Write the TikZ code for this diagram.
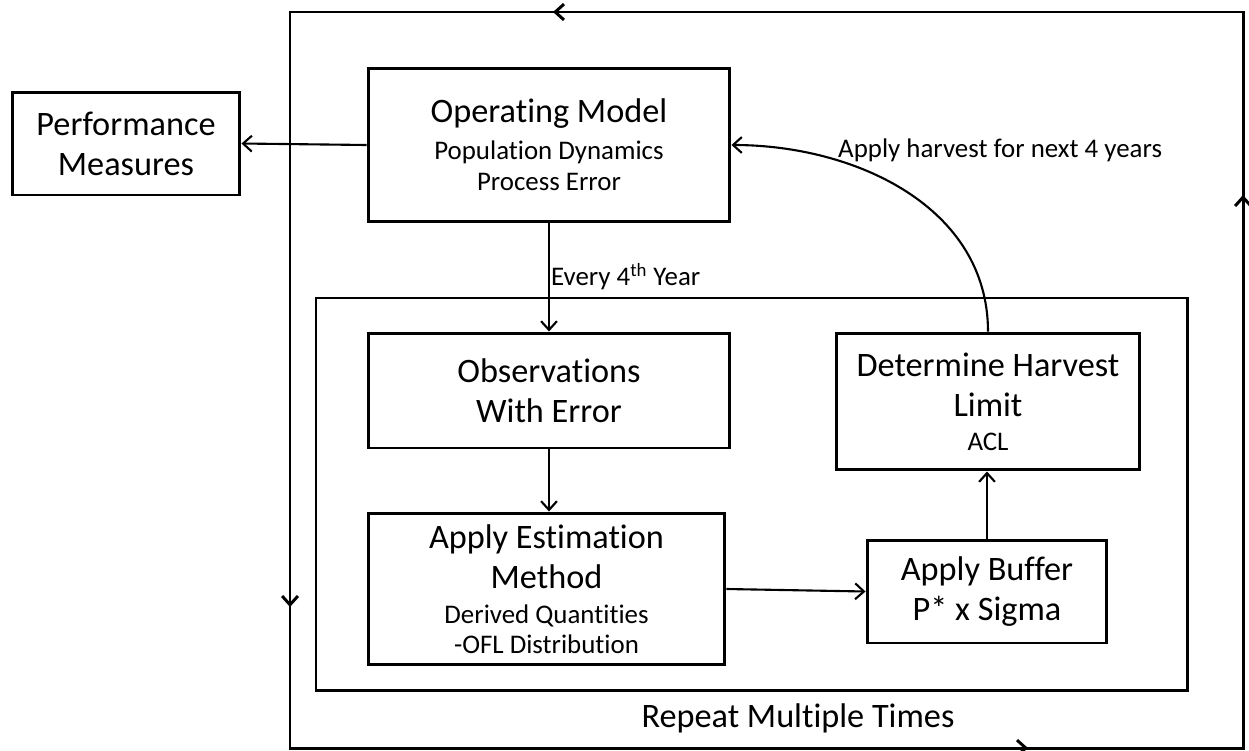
\documentclass[tikz,border=0pt]{standalone}
\usepackage{fontspec}
\setmainfont{Carlito}[RawFeature={-liga;-clig}]
\usepackage{tikz}
\usetikzlibrary{arrows.meta,positioning}
\newcommand\bigtxt{\fontsize{19.5}{22.8}\selectfont}
\newcommand\smalltxt{\fontsize{15.3}{17.6}\selectfont}
\tikzset{
  box/.style={draw,line width=1.7pt,align=center,inner sep=0pt,font=\bigtxt},
  conn/.style={line width=1.2pt,-{Straight Barb[length=5pt,width=9pt]}},
  loopline/.style={line width=1.7pt},
  looparrow/.style={line width=1.7pt,-{Straight Barb[length=5pt,width=9pt]}}
}

\begin{document}
\begin{tikzpicture}[x=0.02cm,y=-0.02cm]
        \useasboundingbox (0,0) rectangle (1249,751);

        % repeat loop
        \draw[loopline] (290,12) rectangle (1243,748);
        \draw[looparrow] (700,12) -- (553,12);
        \draw[looparrow] (290,480) -- (290,607);
        \draw[looparrow] (900,748) -- (1028,748);
        \draw[looparrow] (1243,320) -- (1243,195);
        \node[font=\bigtxt] (repeat) at (798,718) {Repeat Multiple Times};

        % management procedure
        \draw[loopline] (316,298) rectangle (1187,690);

        \node[box,minimum width=4.56cm,minimum height=2.06cm] (perf) at (126,143.5) {Performance\\Measures};
        \node[box,minimum width=7.24cm,minimum height=3.08cm] (om) at (549,145) {Operating Model\\[-2pt] \smalltxt Population Dynamics\\[-5pt] \smalltxt Process Error};
        \node[box,minimum width=7.24cm,minimum height=2.3cm] (obs) at (549,390.5) {Observations\\With Error};
        \node[box,minimum width=7.14cm,minimum height=3.04cm] (est) at (546.5,589) {Apply Estimation\\Method\\[-3pt] \smalltxt Derived Quantities\\[-5.5pt] \smalltxt -OFL Distribution};
        \node[box,minimum width=4.8cm,minimum height=2.06cm] (buf) at (987,591.5) {Apply Buffer\\P* x Sigma};
        \node[box,minimum width=6.08cm,minimum height=2.74cm] (dhl) at (988,401.5) {Determine Harvest\\Limit\\[-3.5pt] \smalltxt ACL};

        \draw[conn] (om.west) -- (perf.east);
        \draw[conn] (om.south -| obs.north) -- (obs.north);
        \draw[conn] (obs.south) -- (est.north -| obs.south);
        \draw[conn] (est.east) -- (buf.west);
        \draw[conn] (buf.north) -- (buf.north |- dhl.south);
        \draw[conn] (dhl.north) to[out=90,in=0] (om.east);

        \node[font=\smalltxt,anchor=west] (every) at (545,277) {Every 4\textsuperscript{th} Year};
        \node[font=\smalltxt,anchor=west] (harvest) at (832,150) {Apply harvest for next 4 years};
\end{tikzpicture}
\end{document}
